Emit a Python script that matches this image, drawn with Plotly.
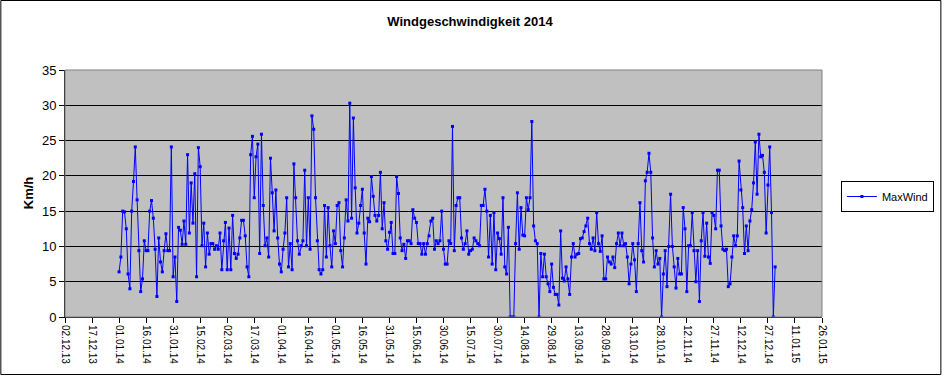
import pandas as pd
import plotly.graph_objects as go

# Daily maximum wind speed (km/h), 2014
jan = [6.4, 8.5, 15.0, 14.9, 12.5, 6.1, 4.0, 15.0, 19.2, 24.1, 16.6, 9.4, 3.6, 5.4, 10.8, 9.4, 9.4, 15.0,
       16.5, 14.0, 9.6, 2.9, 11.2, 7.8, 6.4, 9.4, 11.8, 9.4, 9.4, 24.1, 5.7]
feb = [8.5, 2.2, 12.7, 12.3, 10.3, 13.6, 10.3, 23.0, 11.9, 19.0, 13.3, 20.3, 5.7, 24.0, 21.3, 10.1, 13.3,
       7.1, 11.9, 8.9, 10.4, 10.4, 9.6, 10.1, 9.6, 11.9, 6.7, 10.8]
mar = [13.4, 6.7, 12.6, 6.7, 14.4, 9.0, 8.3, 8.9, 11.2, 13.7, 13.7, 11.5, 7.1, 5.7, 23.0, 25.6, 16.9, 22.7,
       24.5, 9.0, 25.9, 15.8, 10.1, 11.2, 8.5, 22.5, 17.6, 12.2, 18.0, 11.2, 7.5]
apr = [6.4, 9.6, 11.9, 16.9, 7.1, 10.4, 6.7, 21.7, 16.9, 10.8, 8.9, 10.1, 10.8, 20.8, 10.1, 16.9, 9.6, 28.5,
       26.6, 16.9, 10.8, 6.7, 6.1, 6.7, 15.8, 8.5, 15.5, 10.1, 7.1, 12.2]
may = [10.4, 15.8, 16.2, 9.4, 7.1, 11.2, 16.6, 13.6, 30.3, 14.0, 28.2, 18.3, 11.9, 13.3, 15.8, 18.1, 11.9,
       7.5, 14.0, 13.5, 19.9, 17.1, 14.4, 13.6, 14.4, 20.5, 12.5, 16.2, 10.8, 9.6, 12.0]
jun = [13.4, 9.0, 9.0, 19.9, 17.5, 11.2, 9.4, 10.3, 8.3, 10.8, 10.8, 10.4, 15.2, 14.0, 13.4, 10.4, 10.4, 8.9,
       10.4, 8.9, 10.4, 11.5, 13.6, 14.0, 9.6, 10.8, 10.4, 10.8, 15.0, 9.6]
jul = [7.5, 7.5, 10.8, 10.4, 27.0, 9.4, 15.8, 16.9, 16.9, 11.2, 9.6, 10.4, 12.2, 8.9, 9.4, 9.6, 11.2, 10.8,
       10.4, 10.1, 15.8, 15.8, 18.1, 15.0, 8.5, 14.4, 7.5, 14.8, 6.7, 11.9, 11.1]
aug = [8.9, 16.9, 7.1, 6.1, 12.7, 0, 0, 0, 10.4, 17.6, 9.6, 15.5, 11.6, 11.5, 16.9, 15.2, 16.9, 27.7, 12.9,
       10.8, 10.4, 0, 9.0, 5.7, 8.9, 5.7, 4.7, 3.6, 7.5, 4.2, 3.2]
sep = [3.2, 1.7, 12.2, 5.5, 5.1, 7.1, 5.4, 3.2, 8.5, 10.4, 8.5, 8.9, 9.0, 11.1, 11.2, 12.1, 12.9, 14.0, 10.4,
       9.6, 11.2, 9.4, 14.8, 10.4, 9.3, 11.5, 5.4, 5.4, 8.5, 7.8]
oct_ = [7.5, 8.5, 7.0, 10.4, 11.9, 10.1, 11.9, 10.1, 10.4, 8.5, 4.7, 7.5, 10.4, 8.1, 3.6, 10.4, 16.2, 9.4,
        7.8, 19.3, 20.5, 23.2, 20.5, 11.2, 7.1, 9.4, 7.5, 8.3, 0, 6.1, 9.4]
nov = [4.3, 10.0, 17.4, 10.0, 7.1, 4.1, 8.3, 6.1, 6.1, 15.5, 12.5, 3.6, 10.1, 10.1, 14.8, 9.4, 5.0, 9.4, 2.2,
       10.8, 14.8, 8.6, 13.3, 8.5, 7.6, 14.8, 14.4, 12.5, 20.8, 20.8]
dec = [12.9, 9.6, 9.4, 9.6, 4.3, 4.7, 8.5, 11.5, 10.1, 11.5, 22.1, 18.0, 15.5, 9.0, 12.9, 9.4, 13.6, 15.2,
       19.0, 24.8, 17.4, 25.9, 22.7, 22.9, 20.5, 11.9, 18.7, 24.1, 14.8, 0, 7.1]

values = jan + feb + mar + apr + may + jun + jul + aug + sep + oct_ + nov + dec
dates = pd.date_range("2014-01-01", periods=len(values), freq="D")

tick_dates = pd.date_range("2013-12-02", periods=29, freq="15D")
tick_labels = [d.strftime("%d.%m.%y") for d in tick_dates]
y_ticks = [0, 5, 10, 15, 20, 25, 30, 35]

FONT = "Liberation Sans, Arial, sans-serif"

fig = go.Figure()
fig.add_trace(go.Scatter(
    x=dates, y=values, mode="lines+markers", name="MaxWind",
    line=dict(color="#0000FF", width=1),
    marker=dict(symbol="square", size=3, color="#0000FF"),
))

L, R, T, B = 65, 826, 70, 317
W, H = 946, 375

def px(xp):
    return (xp - L) / (R - L)

def py(yp):
    return (B - yp) / (B - T)

fig.update_layout(
    width=W, height=H, autosize=False,
    margin=dict(l=L, r=W - R, t=T, b=H - B, pad=0),
    paper_bgcolor="white", plot_bgcolor="#C0C0C0",
    font=dict(family=FONT, color="black"),
    title=dict(text="<b>Windgeschwindigkeit 2014</b>", x=470 / W, xanchor="center",
               y=1 - 21 / H, yanchor="middle", xref="container", yref="container",
               font=dict(size=13, family=FONT, color="black")),
    showlegend=True,
    legend=dict(x=px(845), y=py(181), xanchor="left", yanchor="top",
                bordercolor="black", borderwidth=1, bgcolor="white",
                font=dict(size=11, family=FONT), itemwidth=30,
                tracegroupgap=0),
    xaxis=dict(
        range=[tick_dates[0], tick_dates[-1]],
        tickmode="array", tickvals=list(tick_dates), ticktext=tick_labels,
        tickangle=90, tickfont=dict(size=10, family=FONT),
        showgrid=False, zeroline=False,
        showline=True, linecolor="black", linewidth=1,
        ticks="outside", ticklen=5, tickcolor="black",
        automargin=False,
    ),
    yaxis=dict(
        range=[0, 35], tickmode="array", tickvals=y_ticks,
        tickfont=dict(size=13, family=FONT),
        showgrid=True, gridcolor="black", gridwidth=1,
        zeroline=False,
        showline=True, linecolor="black", linewidth=1,
        ticks="outside", ticklen=5, tickcolor="black",
        automargin=False,
    ),
    annotations=[dict(text="<b>Km/h</b>", x=px(28), y=py(193), xref="paper", yref="paper",
                      xanchor="center", yanchor="middle",
                      showarrow=False, textangle=-90, font=dict(size=13, family=FONT))],
    shapes=[
        dict(type="rect", xref="paper", yref="paper", x0=0, y0=0, x1=1, y1=1,
             line=dict(color="#808080", width=1), layer="above"),
        dict(type="rect", xref="paper", yref="paper", x0=px(0.5), y0=py(374.5),
             x1=px(945.5), y1=py(0.5), line=dict(color="black", width=1)),
    ],
)

fig.write_html("out.html",
               config={"displayModeBar": False, "staticPlot": True},
               post_script="document.body.style.margin='0';document.body.style.padding='0';")
